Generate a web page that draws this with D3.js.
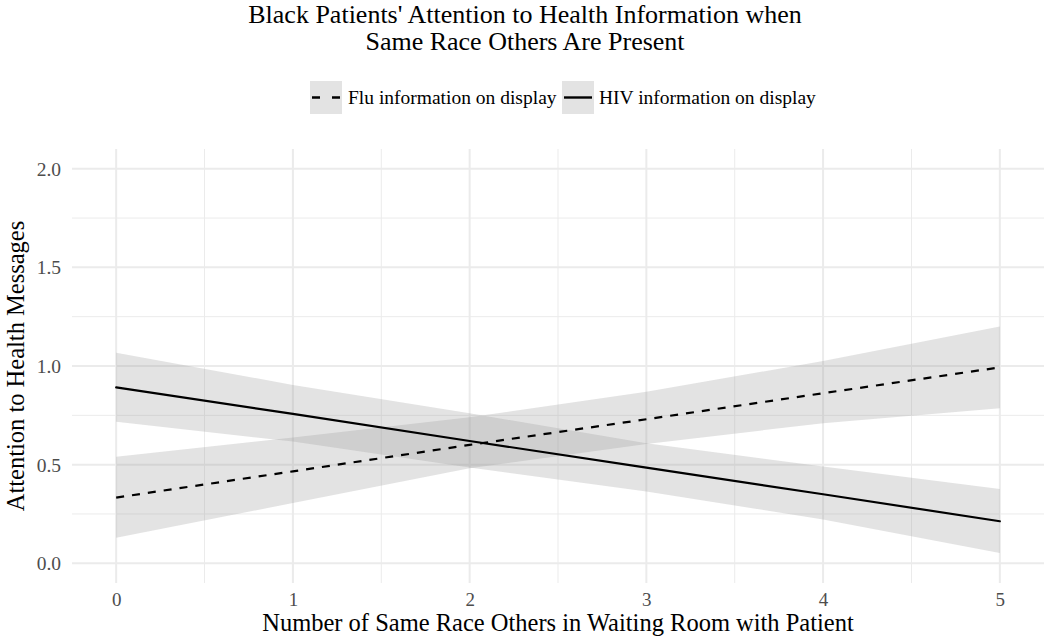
<!DOCTYPE html>
<html>
<head>
<meta charset="utf-8">
<script src="https://cdn.jsdelivr.net/npm/d3@7"></script>
<style>
  html, body { margin: 0; padding: 0; background: #fff; }
  svg { display: block; }
  text { font-family: "Liberation Serif", "Times New Roman", serif; }
</style>
</head>
<body>
<svg id="chart" width="1050" height="642"></svg>
<script>
// ---- data ----
const xValues = [0, 1, 2, 3, 4, 5];
const fluFit  = [0.333, 0.466, 0.600, 0.730, 0.862, 0.993];
const fluLow  = [0.130, 0.305, 0.482, 0.605, 0.710, 0.786];
const fluHigh = [0.540, 0.637, 0.740, 0.870, 1.025, 1.200];
const hivFit  = [0.892, 0.757, 0.620, 0.485, 0.350, 0.213];
const hivLow  = [0.718, 0.617, 0.485, 0.364, 0.222, 0.052];
const hivHigh = [1.067, 0.904, 0.760, 0.609, 0.490, 0.377];
const seriesNames = ["Flu information on display", "HIV information on display"];
const xTicks = [0, 1, 2, 3, 4, 5];
const yTicks = [0.0, 0.5, 1.0, 1.5, 2.0];
const titleLines = ["Black Patients' Attention to Health Information when", "Same Race Others Are Present"];
const xTitle = "Number of Same Race Others in Waiting Room with Patient";
const yTitle = "Attention to Health Messages";

const series = [
  { name: seriesNames[0], fit: fluFit, lo: fluLow, hi: fluHigh, dash: "8,8" },
  { name: seriesNames[1], fit: hivFit, lo: hivLow, hi: hivHigh, dash: null }
];

// ---- layout ----
const svg = d3.select("#chart");
const panel = { left: 72, right: 1044, top: 149, bottom: 583 };
const x = d3.scaleLinear().domain([-0.25, 5.25]).range([panel.left, panel.right]);
const y = d3.scaleLinear().domain([-0.1, 2.1]).range([panel.bottom, panel.top]);

const gridColor = "#ebebeb";
const tickColor = "#4d4d4d";

// minor grid
const xMinor = [0.5, 1.5, 2.5, 3.5, 4.5];
const yMinor = [0.25, 0.75, 1.25, 1.75];
const g = svg.append("g");
g.selectAll("line.xminor").data(xMinor).join("line")
  .attr("x1", d => x(d)).attr("x2", d => x(d))
  .attr("y1", panel.top).attr("y2", panel.bottom)
  .attr("stroke", gridColor).attr("stroke-width", 1);
g.selectAll("line.yminor").data(yMinor).join("line")
  .attr("x1", panel.left).attr("x2", panel.right)
  .attr("y1", d => y(d)).attr("y2", d => y(d))
  .attr("stroke", gridColor).attr("stroke-width", 1);
// major grid
g.selectAll("line.xmajor").data(xTicks).join("line")
  .attr("x1", d => x(d)).attr("x2", d => x(d))
  .attr("y1", panel.top).attr("y2", panel.bottom)
  .attr("stroke", gridColor).attr("stroke-width", 2);
g.selectAll("line.ymajor").data(yTicks).join("line")
  .attr("x1", panel.left).attr("x2", panel.right)
  .attr("y1", d => y(d)).attr("y2", d => y(d))
  .attr("stroke", gridColor).attr("stroke-width", 2);

// ribbons
const area = d3.area()
  .x((d, i) => x(xValues[i]))
  .y0(d => y(d[0]))
  .y1(d => y(d[1]));
series.forEach(s => {
  const pts = xValues.map((v, i) => [s.lo[i], s.hi[i]]);
  svg.append("path").datum(pts)
    .attr("d", area)
    .attr("fill", "#999999")
    .attr("fill-opacity", 0.28);
});

// lines
const line = d3.line().x((d, i) => x(xValues[i])).y(d => y(d));
series.forEach(s => {
  svg.append("path").datum(s.fit)
    .attr("d", line)
    .attr("fill", "none")
    .attr("stroke", "#000")
    .attr("stroke-width", 2.2)
    .attr("stroke-linecap", s.dash ? "butt" : "round")
    .attr("stroke-dasharray", s.dash);
});

// axes (tick labels only)
const xAxis = d3.axisBottom(x).tickValues(xTicks).tickSize(0).tickPadding(0).tickFormat(d3.format("d"));
const xg = svg.append("g").attr("transform", `translate(0,${panel.bottom})`).call(xAxis);
xg.select(".domain").remove();
xg.selectAll("text").attr("fill", tickColor).attr("font-size", 19)
  .attr("font-family", "Liberation Serif").attr("dy", null).attr("y", 23);

const yAxis = d3.axisLeft(y).tickValues(yTicks).tickSize(0).tickPadding(0).tickFormat(d3.format(".1f"));
const yg = svg.append("g").attr("transform", `translate(${panel.left},0)`).call(yAxis);
yg.select(".domain").remove();
yg.selectAll("text").attr("fill", tickColor).attr("font-size", 19.5)
  .attr("font-family", "Liberation Serif").attr("x", -11).attr("dy", "0.33em");

// axis titles
svg.append("text").attr("x", (panel.left + panel.right) / 2).attr("y", 631)
  .attr("text-anchor", "middle").attr("font-size", 24.5).attr("fill", "#000")
  .text(xTitle);
svg.append("text")
  .attr("transform", `translate(23.5,${(panel.top + panel.bottom) / 2}) rotate(-90)`)
  .attr("text-anchor", "middle").attr("font-size", 24.5).attr("fill", "#000")
  .text(yTitle);

// title
svg.selectAll("text.title").data(titleLines).join("text")
  .attr("class", "title")
  .attr("x", 525).attr("y", (d, i) => 23 + i * 27)
  .attr("text-anchor", "middle").attr("font-size", 26).attr("fill", "#000")
  .text(d => d);

// legend
const legend = svg.append("g");
const keyW = 32, keyH = 33, keyY = 81;
const legendItems = [
  { s: series[0], keyX: 310, textX: 348 },
  { s: series[1], keyX: 562, textX: 599 }
];
legendItems.forEach(it => {
  legend.append("rect").attr("x", it.keyX).attr("y", keyY).attr("width", keyW).attr("height", keyH)
    .attr("fill", "#999999").attr("fill-opacity", 0.28);
  legend.append("line")
    .attr("x1", it.keyX + 2).attr("x2", it.keyX + keyW - 2)
    .attr("y1", keyY + keyH / 2).attr("y2", keyY + keyH / 2)
    .attr("stroke", "#000").attr("stroke-width", 2.4)
    .attr("stroke-dasharray", it.s.dash ? "8,12" : null);
  legend.append("text").attr("x", it.textX).attr("y", keyY + keyH / 2).attr("dy", "0.33em")
    .attr("font-size", 19.5).attr("fill", "#000").text(it.s.name);
});
</script>
</body>
</html>
